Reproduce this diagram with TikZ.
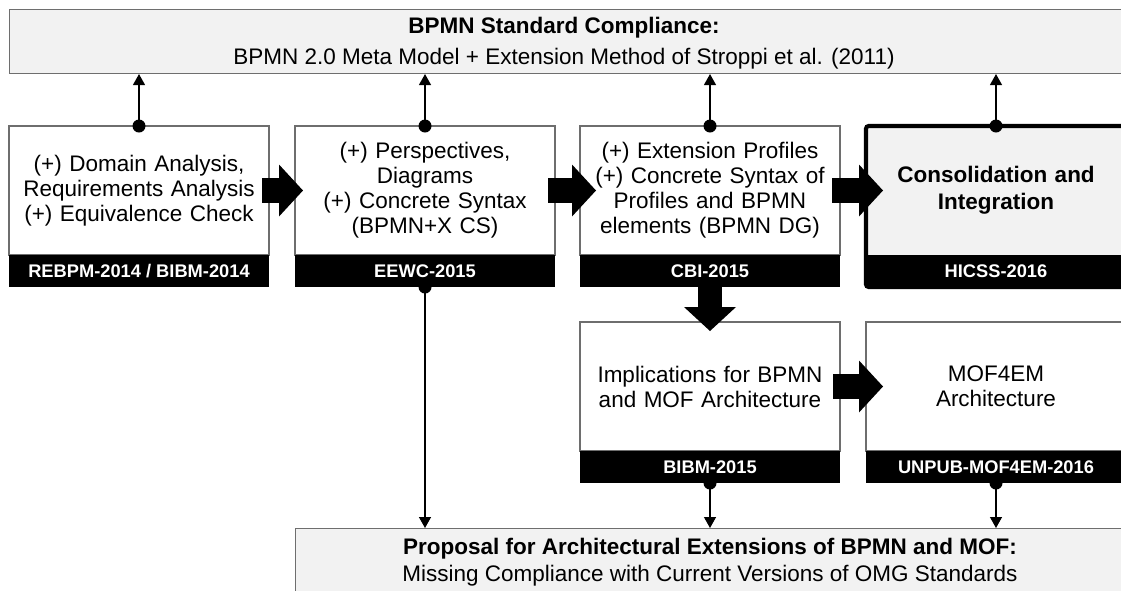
\documentclass[tikz,border=0pt]{standalone}
\usepackage{fontspec}
\setmainfont{Liberation Sans}
\usetikzlibrary{arrows.meta,positioning}

\definecolor{boxgray}{HTML}{F2F2F2}
\definecolor{linegray}{HTML}{6E6E6E}

\tikzset{
  graybox/.style={draw=linegray, fill=boxgray, line width=0.6pt, inner sep=0pt},
  content/.style={draw=linegray, fill=white, line width=0.6pt, minimum width=5.2cm, minimum height=2.58cm,
    text width=5cm, align=center, inner sep=0pt, outer sep=0pt, font=\fontsize{12.8}{14.2}\selectfont},
  band/.style={fill=black, text=white, minimum width=5.2cm, minimum height=0.64cm, inner sep=0pt, outer sep=0pt,
    font=\fontsize{10.4}{12}\selectfont\bfseries},
  bigarrow/.style={line width=0.49cm, -{Triangle[length=0.48cm, width=1.04cm, line width=0pt 0 0]}},
  thinarrow/.style={line width=0.75pt, -{Triangle[length=0.22cm, width=0.24cm]}},
}

\begin{document}
\begin{tikzpicture}
\useasboundingbox (0,0) rectangle (22.42,-11.8);
% standard compliance
\node[graybox, anchor=north west, minimum width=22.6cm, minimum height=1.28cm] (std) at (0.18,-0.18) {};
\node[font=\fontsize{12.8}{17.6}\selectfont, align=center] (stdtxt) at (11.28,-0.86)
  {\textbf{BPMN Standard Compliance:}\\BPMN 2.0 Meta Model + Extension Method of Stroppi et al. (2011)};
% first row
\node[content, anchor=north west] (c1) at (0.18,-2.52) {(+) Domain Analysis,\\Requirements Analysis\\(+) Equivalence Check};
\node[band, below=0pt of c1] (b1) {REBPM-2014 / BIBM-2014};
\node[content, right=0.52cm of c1] (c2) {(+) Perspectives,\\Diagrams\\(+) Concrete Syntax\\(BPMN+X CS)};
\node[band, below=0pt of c2] (b2) {EEWC-2015};
\node[content, right=0.5cm of c2] (c3) {(+) Extension Profiles\\(+) Concrete Syntax of\\Profiles and BPMN\\elements (BPMN DG)};
\node[band, below=0pt of c3] (b3) {CBI-2015};
\node[content, right=0.52cm of c3, draw=none, fill=boxgray, font=\fontsize{12.8}{15.4}\selectfont\bfseries] (c4) {Consolidation and\\Integration};
\node[band, below=0pt of c4] (b4) {HICSS-2016};
\draw[line width=2.3pt, rounded corners=1.5pt] (c4.north west) rectangle (b4.south east);
% second row
\node[content, below=0.7cm of b3] (c5) {Implications for BPMN\\and MOF Architecture};
\node[band, below=0pt of c5] (b5) {BIBM-2015};
\node[content, below=0.7cm of b4] (c6) {MOF4EM\\Architecture};
\node[band, below=0pt of c6] (b6) {UNPUB-MOF4EM-2016};
% proposal
\node[graybox, anchor=north west, minimum width=16.8cm, minimum height=1.6cm] (prop) at (5.9,-10.56) {};
\node[font=\fontsize{12.8}{15.6}\selectfont, align=center] (proptxt) at (14.2,-11.24)
  {\textbf{Proposal for Architectural Extensions of BPMN and MOF:}\\Missing Compliance with Current Versions of OMG Standards};
% connectors
\foreach \c in {c1,c2,c3,c4}
  \draw[thinarrow] (\c.north) -- (\c.north |- std.south);
\foreach \b in {b2,b5,b6}
  \draw[thinarrow] (\b.south) -- (\b.south |- prop.north);
\foreach \p in {c1.north,c2.north,c3.north,c4.north,b2.south,b5.south,b6.south}
  \fill (\p) circle[radius=0.13cm];
\draw[bigarrow] ([xshift=-0.14cm]c1.east) -- ([xshift=0.16cm]c2.west);
\draw[bigarrow] ([xshift=-0.14cm]c2.east) -- ([xshift=0.32cm]c3.west);
\draw[bigarrow] ([xshift=-0.16cm]c3.east) -- ([xshift=0.34cm]c4.west);
\draw[bigarrow] ([xshift=-0.14cm]c5.east) -- ([xshift=0.34cm]c6.west);
\draw[bigarrow] (b3.south) -- ([yshift=-0.18cm]c5.north);
\end{tikzpicture}
\end{document}
